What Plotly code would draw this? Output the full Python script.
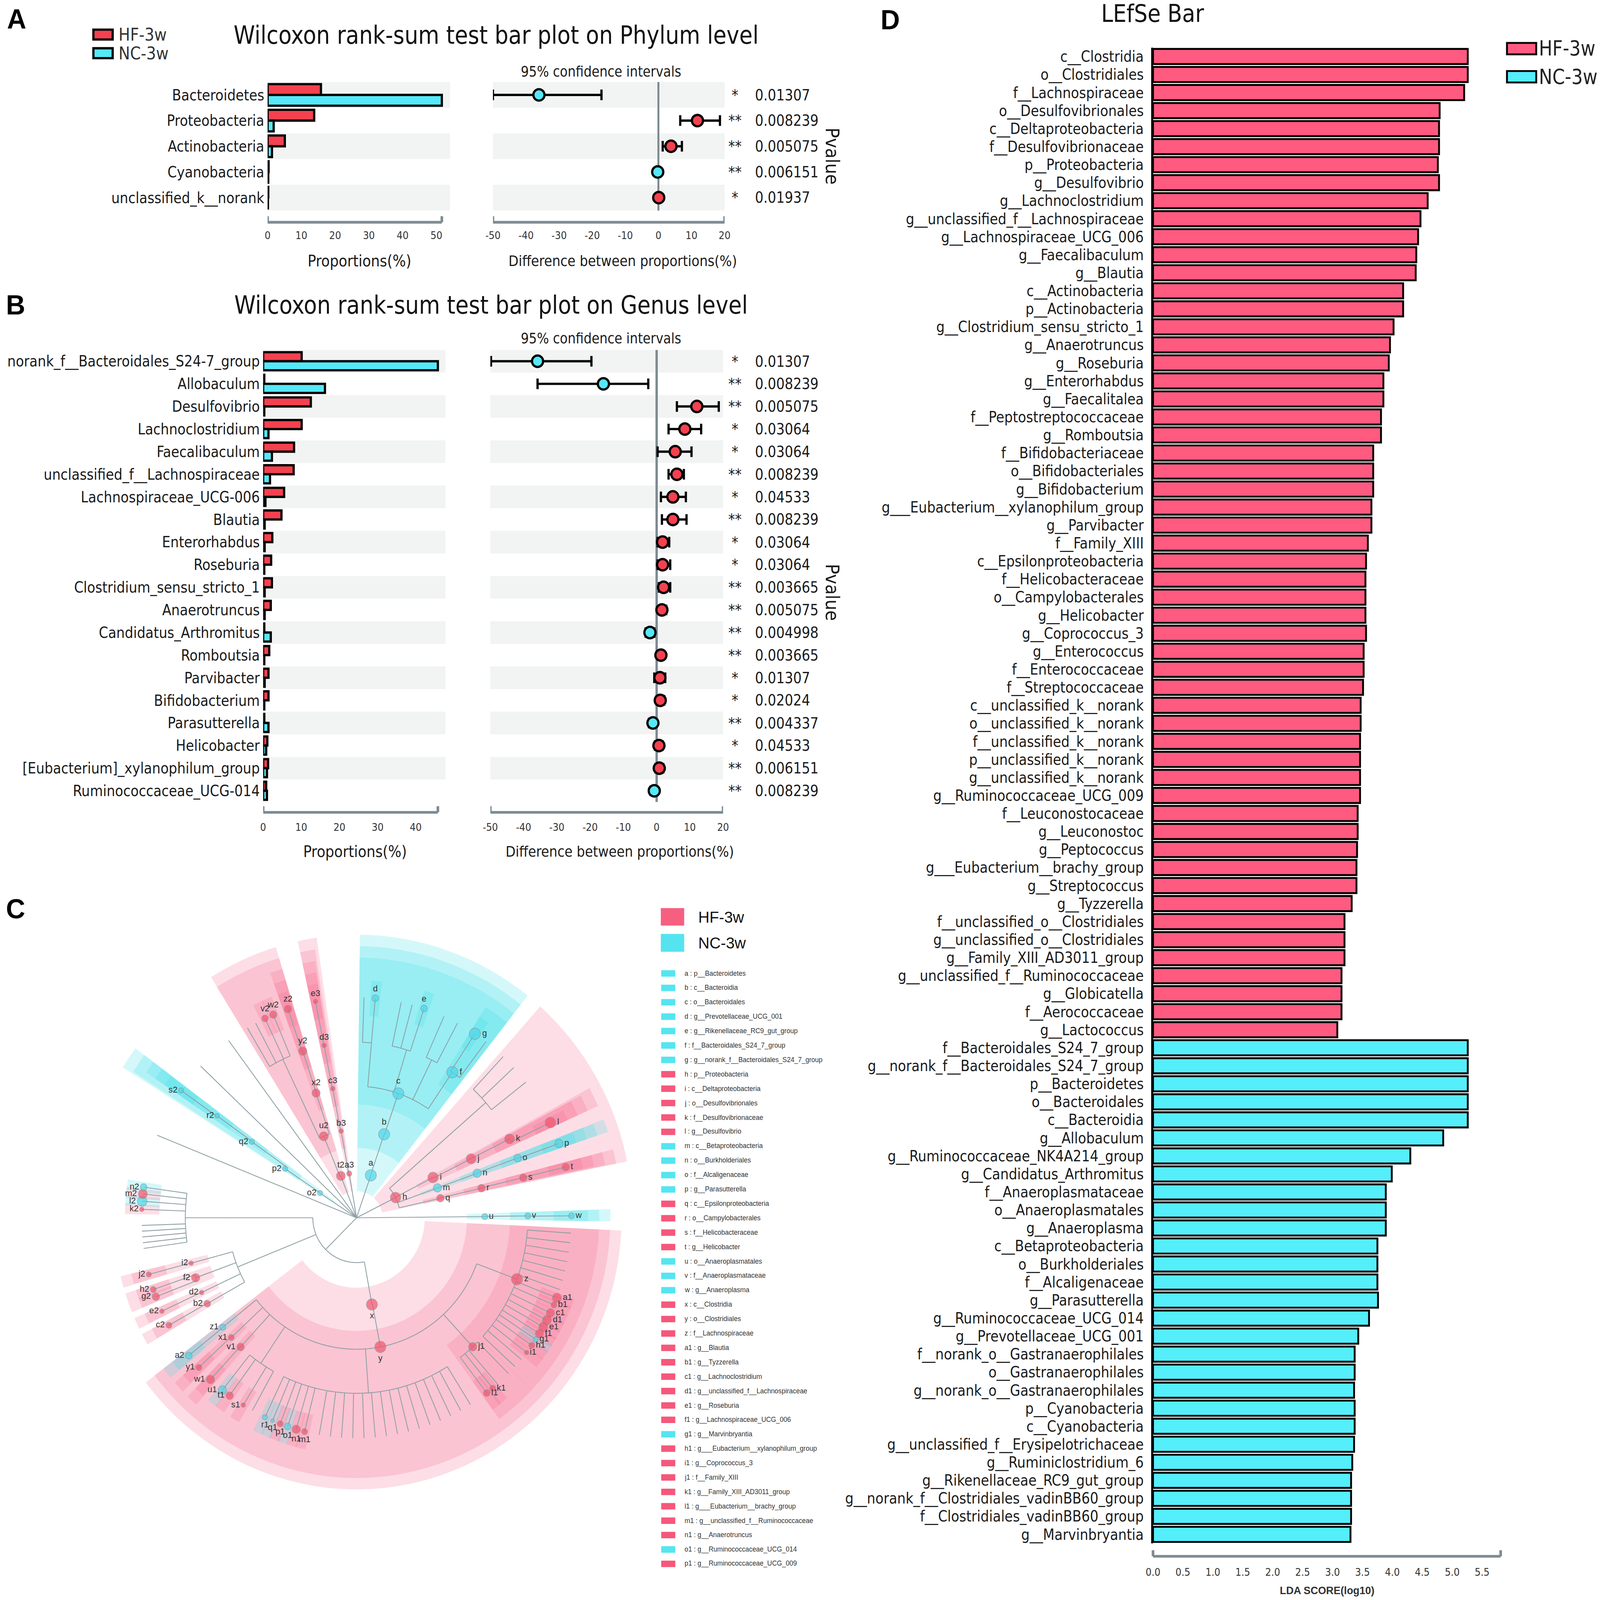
import plotly.graph_objects as go
import numpy as np
from collections import defaultdict

W, H = 4317, 4211
def fx(p): return p / W
def fy(p): return 1 - p / H

NARROW = "Liberation Sans Narrow, Arial Narrow, DejaVu Sans Condensed, sans-serif"
SANS = "Liberation Sans, Arial, Helvetica, sans-serif"

HF_RED = "#f4414f"; NC_CYAN = "#55e8f8"
LEFSE_RED = "#ff5a80"; LEFSE_CYAN = "#55eefb"
AXIS_GRAY = "#7d8b93"; BAND = "#f2f3f3"

# ---------------- Panel A data (phylum) ----------------
phylum_names = ["Bacteroidetes", "Proteobacteria", "Actinobacteria", "Cyanobacteria", "unclassified_k__norank"]
phylum_hf = [15.8, 13.8, 5.1, 0.3, 0.2]
phylum_nc = [51.6, 1.8, 1.3, 0.2, 0.1]
phylum_diff = [-36.1, 11.8, 3.8, -0.2, 0.1]
phylum_ci_low = [-50.0, 6.6, 1.3, -0.6, -0.3]
phylum_ci_high = [-17.2, 18.6, 7.1, 0.2, 0.5]
phylum_stars = ["*", "**", "**", "**", "*"]
phylum_p = ["0.01307", "0.008239", "0.005075", "0.006151", "0.01937"]
phylum_ticks = [0, 10, 20, 30, 40, 50]

# ---------------- Panel B data (genus) ----------------
genus_names = ["norank_f__Bacteroidales_S24-7_group", "Allobaculum", "Desulfovibrio", "Lachnoclostridium",
               "Faecalibaculum", "unclassified_f__Lachnospiraceae", "Lachnospiraceae_UCG-006", "Blautia",
               "Enterorhabdus", "Roseburia", "Clostridium_sensu_stricto_1", "Anaerotruncus",
               "Candidatus_Arthromitus", "Romboutsia", "Parvibacter", "Bifidobacterium", "Parasutterella",
               "Helicobacter", "[Eubacterium]_xylanophilum_group", "Ruminococcaceae_UCG-014"]
genus_hf = [10.1, 0.3, 12.5, 10.1, 8.1, 8.0, 5.5, 4.8, 2.4, 2.1, 2.3, 2.0, 0.3, 1.6, 1.4, 1.4, 0.3, 1.1, 1.3, 0.8]
genus_nc = [45.8, 16.2, 0.3, 1.4, 2.3, 1.8, 0.6, 0.4, 0.4, 0.3, 0.4, 0.4, 2.0, 0.3, 0.4, 0.3, 1.4, 0.8, 1.0, 1.0]
genus_diff = [-35.8, -16.0, 12.1, 8.5, 5.6, 6.1, 4.9, 4.9, 1.8, 1.8, 2.1, 1.6, -2.0, 1.3, 1.0, 1.1, -1.1, 0.7, 0.8, -0.7]
genus_ci_low = [-49.8, -35.8, 6.1, 3.6, 0.3, 3.6, 1.3, 1.6, 0.3, 0.3, 0.7, 0.7, -3.3, 0.3, -0.7, 0.0, -2.3, -0.5, -0.3, -1.8]
genus_ci_high = [-19.6, -2.5, 18.7, 13.4, 10.5, 8.2, 8.8, 9.0, 3.8, 4.1, 4.1, 2.9, -0.7, 2.3, 2.6, 2.3, -0.2, 1.8, 2.0, 0.3]
genus_stars = ["*", "**", "**", "*", "*", "**", "*", "**", "*", "*", "**", "**", "**", "**", "*", "*", "**", "*", "**", "**"]
genus_p = ["0.01307", "0.008239", "0.005075", "0.03064", "0.03064", "0.008239", "0.04533", "0.008239", "0.03064",
           "0.03064", "0.003665", "0.005075", "0.004998", "0.003665", "0.01307", "0.02024", "0.004337", "0.04533",
           "0.006151", "0.008239"]
genus_ticks = [0, 10, 20, 30, 40]
diff_ticks = [-50, -40, -30, -20, -10, 0, 10, 20]

# ---------------- Panel D data (LEfSe) ----------------
lefse_hf_names = ["c__Clostridia", "o__Clostridiales", "f__Lachnospiraceae", "o__Desulfovibrionales",
    "c__Deltaproteobacteria", "f__Desulfovibrionaceae", "p__Proteobacteria", "g__Desulfovibrio",
    "g__Lachnoclostridium", "g__unclassified_f__Lachnospiraceae", "g__Lachnospiraceae_UCG_006",
    "g__Faecalibaculum", "g__Blautia", "c__Actinobacteria", "p__Actinobacteria", "g__Clostridium_sensu_stricto_1",
    "g__Anaerotruncus", "g__Roseburia", "g__Enterorhabdus", "g__Faecalitalea", "f__Peptostreptococcaceae",
    "g__Romboutsia", "f__Bifidobacteriaceae", "o__Bifidobacteriales", "g__Bifidobacterium",
    "g___Eubacterium__xylanophilum_group", "g__Parvibacter", "f__Family_XIII", "c__Epsilonproteobacteria",
    "f__Helicobacteraceae", "o__Campylobacterales", "g__Helicobacter", "g__Coprococcus_3", "g__Enterococcus",
    "f__Enterococcaceae", "f__Streptococcaceae", "c__unclassified_k__norank", "o__unclassified_k__norank",
    "f__unclassified_k__norank", "p__unclassified_k__norank", "g__unclassified_k__norank",
    "g__Ruminococcaceae_UCG_009", "f__Leuconostocaceae", "g__Leuconostoc", "g__Peptococcus",
    "g___Eubacterium__brachy_group", "g__Streptococcus", "g__Tyzzerella", "f__unclassified_o__Clostridiales",
    "g__unclassified_o__Clostridiales", "g__Family_XIII_AD3011_group", "g__unclassified_f__Ruminococcaceae",
    "g__Globicatella", "f__Aerococcaceae", "g__Lactococcus"]
lefse_hf_lda = [5.26, 5.26, 5.20, 4.79, 4.78, 4.78, 4.76, 4.78, 4.59, 4.47, 4.43, 4.40, 4.39, 4.18, 4.18, 4.02,
    3.96, 3.94, 3.85, 3.85, 3.81, 3.81, 3.68, 3.68, 3.68, 3.65, 3.65, 3.59, 3.56, 3.55, 3.55, 3.55, 3.56, 3.52,
    3.52, 3.51, 3.47, 3.47, 3.46, 3.46, 3.46, 3.46, 3.42, 3.42, 3.41, 3.40, 3.40, 3.32, 3.20, 3.20, 3.20, 3.15,
    3.15, 3.15, 3.08]
lefse_nc_names = ["f__Bacteroidales_S24_7_group", "g__norank_f__Bacteroidales_S24_7_group", "p__Bacteroidetes",
    "o__Bacteroidales", "c__Bacteroidia", "g__Allobaculum", "g__Ruminococcaceae_NK4A214_group",
    "g__Candidatus_Arthromitus", "f__Anaeroplasmataceae", "o__Anaeroplasmatales", "g__Anaeroplasma",
    "c__Betaproteobacteria", "o__Burkholderiales", "f__Alcaligenaceae", "g__Parasutterella",
    "g__Ruminococcaceae_UCG_014", "g__Prevotellaceae_UCG_001", "f__norank_o__Gastranaerophilales",
    "o__Gastranaerophilales", "g__norank_o__Gastranaerophilales", "p__Cyanobacteria", "c__Cyanobacteria",
    "g__unclassified_f__Erysipelotrichaceae", "g__Ruminiclostridium_6", "g__Rikenellaceae_RC9_gut_group",
    "g__norank_f__Clostridiales_vadinBB60_group", "f__Clostridiales_vadinBB60_group", "g__Marvinbryantia"]
lefse_nc_lda = [5.26, 5.26, 5.26, 5.26, 5.26, 4.85, 4.30, 3.99, 3.89, 3.89, 3.89, 3.75, 3.75, 3.75, 3.76, 3.61,
    3.43, 3.37, 3.37, 3.36, 3.37, 3.37, 3.36, 3.33, 3.31, 3.31, 3.31, 3.30]
lda_ticks = [0.0, 0.5, 1.0, 1.5, 2.0, 2.5, 3.0, 3.5, 4.0, 4.5, 5.0, 5.5]

# ---------------- Panel C data (cladogram) ----------------
# (id, parent, level, angle_deg, group, marker size)
clade_nodes = [
    ("a", "root", 1, 71.0, "NC", 30), ("b", "a", 2, 71.3, "NC", 30), ("c", "b", 3, 71.0, "NC", 30),
    ("Fb1", "c", 4, 85.0, None, 0), ("d", "Fb1", 5, 85.0, "NC", 18),
    ("Fb2", "c", 4, 73.0, None, 0), ("e", "Fb2", 5, 71.7, "NC", 18),
    ("Fb3", "c", 4, 64.0, None, 0),
    ("f", "c", 4, 56.0, "NC", 30), ("g", "f", 5, 56.6, "NC", 30),
    ("h", "root", 1, 26.8, "HF", 28), ("i", "h", 2, 27.2, "HF", 28), ("j", "i", 3, 26.7, "HF", 26),
    ("k", "j", 4, 26.7, "HF", 26), ("l", "k", 5, 25.6, "HF", 28),
    ("m", "h", 2, 19.8, "NC", 22), ("n", "m", 3, 19.8, "NC", 22), ("o", "n", 4, 19.9, "NC", 20),
    ("p", "o", 5, 19.7, "NC", 22),
    ("q", "h", 2, 12.8, "HF", 20), ("r", "q", 3, 13.0, "HF", 20), ("s", "r", 4, 13.2, "HF", 20),
    ("t", "s", 5, 13.3, "HF", 20),
    ("Cp1", "h", 2, 41.0, None, 0), ("Op1", "Cp1", 3, 41.0, None, 0), ("Fp1", "Op1", 4, 41.0, None, 0),
    ("Pt", "root", 1, 0.5, None, 0), ("Ct", "Pt", 2, 0.5, None, 0),
    ("u", "Ct", 3, 0.5, "NC", 16), ("v", "u", 4, 0.6, "NC", 16), ("w", "v", 5, 0.5, "NC", 16),
    ("Pf", "root", 1, -135.0, None, 0),
    ("x", "Pf", 2, -79.7, "HF", 30), ("y", "x", 3, -79.3, "HF", 30),
    ("z", "y", 4, -20.5, "HF", 30),
    ("a1", "z", 5, -21.3, "HF", 24), ("b1", "z", 5, -23.3, "HF", 16), ("c1", "z", 5, -25.6, "HF", 22),
    ("d1", "z", 5, -27.7, "HF", 24), ("e1", "z", 5, -29.7, "HF", 24), ("f1", "z", 5, -31.7, "HF", 22),
    ("g1", "z", 5, -33.5, "NC", 14), ("h1", "z", 5, -35.4, "HF", 16), ("i1", "z", 5, -37.7, "HF", 12),
    ("j1", "y", 4, -47.3, "HF", 22), ("k1", "j1", 5, -50.7, "HF", 16), ("l1", "j1", 5, -52.7, "HF", 18),
    ("Fr", "y", 4, -86.0, None, 0),
    ("m1", "Fr", 5, -104.0, "HF", 16), ("n1", "Fr", 5, -106.3, "HF", 22), ("o1", "Fr", 5, -108.7, "NC", 18),
    ("p1", "Fr", 5, -110.8, "HF", 16), ("q1", "Fr", 5, -113.0, "NC", 10), ("r1", "Fr", 5, -115.2, "NC", 14),
    ("Fx", "y", 4, -124.0, None, 0),
    ("s1", "Fx", 5, -121.8, "HF", 12), ("t1", "Fx", 5, -126.2, "HF", 20), ("u1", "Fx", 5, -128.6, "NC", 22),
    ("v1", "y", 4, -132.6, "HF", 20), ("w1", "v1", 5, -132.8, "HF", 22),
    ("x1", "y", 4, -137.0, "HF", 16), ("y1", "x1", 5, -137.2, "HF", 16),
    ("z1", "y", 4, -141.4, "NC", 16), ("a2", "z1", 5, -141.3, "NC", 18),
    ("Cb", "Pf", 2, -158.0, None, 0), ("Ob", "Cb", 3, -158.0, None, 0),
    ("b2", "Ob", 4, -150.7, "HF", 18), ("c2", "b2", 5, -150.8, "HF", 16),
    ("d2", "Ob", 4, -154.8, "HF", 12), ("e2", "d2", 5, -154.9, "HF", 12),
    ("f2", "Ob", 4, -160.0, "HF", 22), ("g2", "f2", 5, -159.0, "HF", 20), ("h2", "f2", 5, -161.0, "HF", 16),
    ("i2", "Ob", 4, -165.0, "HF", 12), ("j2", "i2", 5, -165.1, "HF", 14),
    ("Ce", "Pf", 2, -180.0, None, 0), ("Oe", "Ce", 3, -180.0, None, 0), ("Fe", "Oe", 4, -180.0, None, 0),
    ("k2", "Fe", 5, -182.2, "HF", 12), ("l2", "Fe", 5, -184.3, "NC", 26), ("m2", "Fe", 5, -186.2, "HF", 24),
    ("n2", "Fe", 5, -188.0, "NC", 18),
    ("t2", "root", 1, 111.0, "HF", 24), ("u2", "t2", 2, 112.4, "HF", 24), ("x2", "u2", 3, 108.4, "HF", 22),
    ("y2", "x2", 4, 108.3, "HF", 22), ("z2", "y2", 5, 108.6, "HF", 20),
    ("Oa2", "u2", 3, 115.5, None, 0), ("Fa2", "Oa2", 4, 115.5, None, 0),
    ("v2", "Fa2", 5, 115.2, "HF", 18), ("w2", "Fa2", 5, 112.8, "HF", 20),
    ("a3", "root", 1, 99.6, "HF", 14), ("b3", "a3", 2, 100.3, "HF", 12), ("c3", "b3", 3, 100.7, "HF", 12),
    ("d3", "c3", 4, 100.9, "HF", 12), ("e3", "d3", 5, 101.0, "HF", 12),
    ("o2", "root", 1, 146.6, "NC", 14), ("p2", "o2", 2, 146.2, "NC", 14), ("q2", "p2", 3, 144.7, "NC", 14),
    ("r2", "q2", 4, 144.5, "NC", 12), ("s2", "r2", 5, 144.7, "NC", 14),
]
# non-significant leaves: (parent, level, angle)
clade_tips = [
    ("Fb1", 5, 88.0), ("Fb2", 5, 75.0), ("Fb2", 5, 78.0), ("Fb3", 5, 62.0), ("Fb3", 5, 66.0), ("f", 5, 53.0),
    ("Fp1", 5, 38.0), ("Fp1", 5, 43.0), ("Fp1", 5, 47.0),
    ("z", 5, -4.0), ("z", 5, -6.5), ("z", 5, -9.0), ("z", 5, -11.5), ("z", 5, -14.0), ("z", 5, -16.5),
    ("z", 5, -19.0), ("z", 5, -40.0), ("z", 5, -42.5),
    ("j1", 5, -45.0), ("j1", 5, -49.0),
    ("Fr", 5, -58.0), ("Fr", 5, -61.0), ("Fr", 5, -64.0), ("Fr", 5, -67.0), ("Fr", 5, -70.0), ("Fr", 5, -73.0),
    ("Fr", 5, -76.0), ("Fr", 5, -79.0), ("Fr", 5, -82.0), ("Fr", 5, -85.0), ("Fr", 5, -88.0), ("Fr", 5, -91.0),
    ("Fr", 5, -94.0), ("Fr", 5, -97.0), ("Fr", 5, -100.0),
    ("Fx", 5, -119.0),
    ("Fe", 5, -178.0), ("Fe", 5, -176.5), ("Fe", 5, -175.0), ("Fe", 5, -173.5), ("Fe", 5, -172.0),
    ("Fa2", 5, 118.0), ("Fa2", 5, 120.5),
    ("root", 5, 158.0), ("root", 5, 136.5), ("root", 5, 126.5),
]
clade_level_r = [0, 118, 232, 346, 462, 580]

legend_letters = ["a", "b", "c", "d", "e", "f", "g", "h", "i", "j", "k", "l", "m", "n", "o", "p", "q", "r", "s",
                  "t", "u", "v", "w", "x", "y", "z", "a1", "b1", "c1", "d1", "e1", "f1", "g1", "h1", "i1", "j1",
                  "k1", "l1", "m1", "n1", "o1", "p1"]
legend_taxa = ["p__Bacteroidetes", "c__Bacteroidia", "o__Bacteroidales", "g__Prevotellaceae_UCG_001",
    "g__Rikenellaceae_RC9_gut_group", "f__Bacteroidales_S24_7_group", "g__norank_f__Bacteroidales_S24_7_group",
    "p__Proteobacteria", "c__Deltaproteobacteria", "o__Desulfovibrionales", "f__Desulfovibrionaceae",
    "g__Desulfovibrio", "c__Betaproteobacteria", "o__Burkholderiales", "f__Alcaligenaceae", "g__Parasutterella",
    "c__Epsilonproteobacteria", "o__Campylobacterales", "f__Helicobacteraceae", "g__Helicobacter",
    "o__Anaeroplasmatales", "f__Anaeroplasmataceae", "g__Anaeroplasma", "c__Clostridia", "o__Clostridiales",
    "f__Lachnospiraceae", "g__Blautia", "g__Tyzzerella", "g__Lachnoclostridium",
    "g__unclassified_f__Lachnospiraceae", "g__Roseburia", "g__Lachnospiraceae_UCG_006", "g__Marvinbryantia",
    "g___Eubacterium__xylanophilum_group", "g__Coprococcus_3", "f__Family_XIII", "g__Family_XIII_AD3011_group",
    "g___Eubacterium__brachy_group", "g__unclassified_f__Ruminococcaceae", "g__Anaerotruncus",
    "g__Ruminococcaceae_UCG_014", "g__Ruminococcaceae_UCG_009"]
legend_groups = ["NC"] * 7 + ["HF"] * 5 + ["NC"] * 4 + ["HF"] * 4 + ["NC"] * 3 + ["HF"] * 3 + ["HF"] * 6 + \
                ["NC"] + ["HF"] * 7 + ["NC"] + ["HF"]

fig = go.Figure()
shapes, ann = [], []
layout_axes = {}

def akey(ref):
    return ref[0] + "axis" + ref[1:]

def txt(x, y, s, size, family=NARROW, xanchor="center", yanchor="middle", color="#1a1a1a", xref="paper",
        yref="paper", angle=0, bold=False):
    ann.append(dict(x=x, y=y, xref=xref, yref=yref, text=("<b>%s</b>" % s) if bold else s, showarrow=False,
                    xanchor=xanchor, yanchor=yanchor, textangle=angle,
                    font=dict(family=family, size=size, color=color)))

def stamp(names, hf, nc, diff, lo, hi, stars, pvals, lticks, refs, g):
    xl, yl, xr, yr = refs
    n = len(names)
    ys = list(range(n))
    bw = g["bw"]
    fig.add_trace(go.Bar(x=hf, y=ys, orientation="h", width=bw, offset=-bw, xaxis=xl, yaxis=yl,
                         marker=dict(color=HF_RED, line=dict(color="black", width=6)), showlegend=False))
    fig.add_trace(go.Bar(x=nc, y=ys, orientation="h", width=bw, offset=0, xaxis=xl, yaxis=yl,
                         marker=dict(color=NC_CYAN, line=dict(color="black", width=6)), showlegend=False))
    fig.add_trace(go.Scatter(x=diff, y=ys, mode="markers", xaxis=xr, yaxis=yr, showlegend=False,
                             marker=dict(size=g["ms"], color=[HF_RED if d > 0 else NC_CYAN for d in diff],
                                         line=dict(color="black", width=6)),
                             error_x=dict(type="data", symmetric=False,
                                          array=[h_ - d for h_, d in zip(hi, diff)],
                                          arrayminus=[d - l_ for l_, d in zip(lo, diff)],
                                          color="black", thickness=6, width=14)))
    for i in range(0, n, 2):
        for xx, yy in ((xl, yl), (xr, yr)):
            shapes.append(dict(type="rect", xref=xx + " domain", x0=0, x1=1, yref=yy, y0=i - 0.5, y1=i + 0.5,
                               fillcolor=BAND, line=dict(width=0), layer="below"))
    yb = fy(g["ybot"]); yt = fy(g["ytop"])
    common = dict(showgrid=False, showline=False, ticks="", fixedrange=True, automargin=False)
    layout_axes[akey(xl)] = dict(domain=[fx(g["lx0"]), fx(g["lx1"])], range=[0, g["lmax"]], anchor="free",
                                 position=fy(g["axy"]), tickvals=lticks, ticktext=[str(v) for v in lticks],
                                 tickfont=dict(family=NARROW, size=28, color="#333"),
                                 ticklabelstandoff=g["ts"], zeroline=False, **common)
    layout_axes[akey(yl)] = dict(domain=[yb, yt], range=[n - 0.5, -0.5], anchor=xl, tickvals=ys,
                                 ticktext=names, tickfont=dict(family=NARROW, size=40, color="#1a1a1a"),
                                 ticklabelstandoff=8, zeroline=False, **common)
    layout_axes[akey(xr)] = dict(domain=[fx(g["rx0"]), fx(g["rx1"])], range=[-50, 20], anchor="free",
                                 position=fy(g["axy"]), tickvals=diff_ticks, ticktext=[str(v) for v in diff_ticks],
                                 tickfont=dict(family=NARROW, size=28, color="#333"),
                                 ticklabelstandoff=g["ts"], zeroline=True, zerolinecolor=AXIS_GRAY,
                                 zerolinewidth=6, **common)
    layout_axes[akey(yr)] = dict(domain=[yb, yt], range=[n - 0.5, -0.5], anchor=xr, showticklabels=False,
                                 zeroline=False, **common)
    ay = fy(g["axy"]); cap = fy(g["axy"] - 16)
    lend = max(nc + hf)
    for xx, a0, a1 in ((xl, 0, lend), (xr, -50, 20)):
        shapes.append(dict(type="line", xref=xx, yref="paper", x0=a0, x1=a1, y0=ay, y1=ay,
                           line=dict(color=AXIS_GRAY, width=7)))
        for e in (a0, a1):
            shapes.append(dict(type="line", xref=xx, yref="paper", x0=e, x1=e, y0=ay, y1=cap,
                               line=dict(color=AXIS_GRAY, width=7)))
    for i in ys:
        txt(fx(g["starx"]), i, stars[i], 40, yref=yl)
        txt(fx(g["px"]), i, pvals[i], 40, xanchor="left", yref=yl)

# ---------- Panel A
stamp(phylum_names, phylum_hf, phylum_nc, phylum_diff, phylum_ci_low, phylum_ci_high, phylum_stars, phylum_p,
      phylum_ticks, ("x", "y", "x2", "y2"),
      dict(lx0=722, lx1=1214, lmax=54, rx0=1330, rx1=1955, ytop=216, ybot=554, axy=585, ts=15,
           starx=1983, px=2035, ms=30, bw=0.42))
txt(fx(1338), fy(92), "Wilcoxon rank-sum test bar plot on Phylum level", 65, color="#111")
txt(fx(1621), fy(188), "95% confidence intervals", 38)
txt(fx(970), fy(686), "Proportions(%)", 42)
txt(fx(1680), fy(686), "Difference between proportions(%)", 39)
txt(fx(2245), fy(411), "Pvalue", 50, angle=90)
for (lab, col, yc) in (("HF-3w", HF_RED, 91), ("NC-3w", NC_CYAN, 140)):
    shapes.append(dict(type="rect", xref="paper", yref="paper", x0=fx(252), x1=fx(304), y0=fy(yc + 13),
                       y1=fy(yc - 13), fillcolor=col, line=dict(color="black", width=6)))
    txt(fx(318), fy(yc), lab, 46, xanchor="left", color="#333")

# ---------- Panel B
stamp(genus_names, genus_hf, genus_nc, genus_diff, genus_ci_low, genus_ci_high, genus_stars, genus_p,
      genus_ticks, ("x3", "y3", "x4", "y4"),
      dict(lx0=710, lx1=1202, lmax=47.8, rx0=1323, rx1=1951, ytop=921, ybot=2111, axy=2138, ts=20,
           starx=1983, px=2035, ms=30, bw=0.40))
txt(fx(1325), fy(803), "Wilcoxon rank-sum test bar plot on Genus level", 65, color="#111")
txt(fx(1621), fy(891), "95% confidence intervals", 38)
txt(fx(958), fy(2241), "Proportions(%)", 42)
txt(fx(1672), fy(2241), "Difference between proportions(%)", 39)
txt(fx(2245), fy(1559), "Pvalue", 50, angle=90)

# ---------- Panel D
lefse_names = lefse_hf_names + lefse_nc_names
lefse_lda = lefse_hf_lda + lefse_nc_lda
lefse_groups = ["HF"] * len(lefse_hf_names) + ["NC"] * len(lefse_nc_names)
nD = len(lefse_names)
fig.add_trace(go.Bar(x=lefse_lda, y=list(range(nD)), orientation="h", width=0.84, xaxis="x5", yaxis="y5",
                     marker=dict(color=[LEFSE_RED if gname == "HF" else LEFSE_CYAN for gname in lefse_groups],
                                 line=dict(color="black", width=5)), showlegend=False))
layout_axes["xaxis5"] = dict(domain=[fx(3111), fx(4049)], range=[0, 5.81], anchor="free", position=fy(4096),
                             tickvals=lda_ticks, ticktext=["%.1f" % v for v in lda_ticks],
                             tickfont=dict(family=NARROW, size=28, color="#333"), ticklabelstandoff=22,
                             showgrid=False, zeroline=False, showline=False, ticks="", fixedrange=True,
                             automargin=False)
layout_axes["yaxis5"] = dict(domain=[fy(4062), fy(125)], range=[nD - 0.5, -0.5], anchor="x5",
                             tickvals=list(range(nD)), ticktext=lefse_names,
                             tickfont=dict(family=NARROW, size=40, color="#1a1a1a"), ticklabelstandoff=12,
                             showgrid=False, zeroline=False, showline=True, linecolor="black", linewidth=5,
                             ticks="", fixedrange=True, automargin=False)
shapes.append(dict(type="line", xref="x5 domain", yref="paper", x0=0, x1=1, y0=fy(4096), y1=fy(4096),
                   line=dict(color=AXIS_GRAY, width=7)))
for e in (0, 1):
    shapes.append(dict(type="line", xref="x5 domain", yref="paper", x0=e, x1=e, y0=fy(4096), y1=fy(4080),
                       line=dict(color=AXIS_GRAY, width=7)))
txt(fx(3581), fy(4186), "LDA SCORE(log10)", 28, family=SANS, bold=True, color="#333")
txt(fx(3110), fy(36), "LEfSe Bar", 64, color="#111")
for (lab, col, yc) in (("HF-3w", LEFSE_RED, 128), ("NC-3w", LEFSE_CYAN, 202)):
    shapes.append(dict(type="rect", xref="paper", yref="paper", x0=fx(4066), x1=fx(4145), y0=fy(yc + 15),
                       y1=fy(yc - 15), fillcolor=col, line=dict(color="black", width=5)))
    txt(fx(4150), fy(yc), lab, 54, xanchor="left", color="#222")

# ---------- Panel C: cladogram
node = {"root": ("root", None, 0, 0.0, None, 0)}
for nd in clade_nodes:
    node[nd[0]] = nd
children = defaultdict(list)
for nd in clade_nodes:
    children[nd[1]].append((nd[2], nd[3]))
for (par, lev, th) in clade_tips:
    children[par].append((lev, th))

def descendant_angles(nid):
    out = [node[nid][3]]
    for nd in clade_nodes:
        if nd[1] == nid:
            out += descendant_angles(nd[0])
    for (par, lev, th) in clade_tips:
        if par == nid:
            out.append(th)
    return out

wedge_r, wedge_base, wedge_t, wedge_w, wedge_c = [], [], [], [], []
sig = sorted([nd for nd in clade_nodes if nd[4] is not None], key=lambda t: t[2])
for nd in sig:
    angs = descendant_angles(nd[0])
    lo, hi = min(angs), max(angs)
    base = clade_level_r[nd[2]] - 48
    outer = 625 + (5 - nd[2]) * 30
    wedge_base.append(base)
    wedge_r.append(outer - base)
    wedge_t.append((lo + hi) / 2)
    wedge_w.append(hi - lo + 2.6)
    wedge_c.append("rgba(246,105,140,0.22)" if nd[4] == "HF" else "rgba(60,222,232,0.22)")
fig.add_trace(go.Barpolar(r=wedge_r, base=wedge_base, theta=wedge_t, width=wedge_w, subplot="polar",
                          marker=dict(color=wedge_c, line=dict(width=0)), showlegend=False, hoverinfo="skip"))

br_r, br_t = [], []
for pid, kids in children.items():
    p = node[pid]
    rp = clade_level_r[p[2]]
    if pid != "root":
        angs = [k[1] for k in kids] + [p[3]]
        a0, a1 = min(angs), max(angs)
        if a1 - a0 > 0.01:
            ts_ = np.linspace(a0, a1, max(3, int((a1 - a0) * 2)))
            br_t += list(ts_) + [None]
            br_r += [rp] * len(ts_) + [None]
    for (lev, th) in kids:
        br_t += [th, th, None]
        br_r += [rp, clade_level_r[lev], None]
fig.add_trace(go.Scatterpolar(r=br_r, theta=br_t, mode="lines", subplot="polar", showlegend=False,
                              line=dict(color="#8fa0a5", width=2.2), hoverinfo="skip", connectgaps=False))

sig_nodes = [nd for nd in clade_nodes if nd[4] is not None]
def tpos(th):
    c, s = np.cos(np.radians(th)), np.sin(np.radians(th))
    if s > 0.85:
        return "top center"
    if s < -0.85:
        return "bottom center"
    return "middle right" if c >= 0 else "middle left"
fig.add_trace(go.Scatterpolar(r=[clade_level_r[nd[2]] for nd in sig_nodes], theta=[nd[3] for nd in sig_nodes],
                              mode="markers+text", subplot="polar", showlegend=False,
                              text=[nd[0] for nd in sig_nodes], textposition=[tpos(nd[3]) for nd in sig_nodes],
                              textfont=dict(family=SANS, size=23, color="#333"),
                              marker=dict(size=[nd[5] for nd in sig_nodes],
                                          color=["#f0566e" if nd[4] == "HF" else "#4fd6ea" for nd in sig_nodes],
                                          line=dict(color="#8a8a8a", width=1.5))))

for (lab, col, y0, y1) in (("HF-3w", "#f65f80", 2390, 2436), ("NC-3w", "#55e3f0", 2458, 2505)):
    shapes.append(dict(type="rect", xref="paper", yref="paper", x0=fx(1783), x1=fx(1846), y0=fy(y1), y1=fy(y0),
                       fillcolor=col, line=dict(width=0)))
    txt(fx(1882), fy((y0 + y1) / 2), lab, 42, family=SANS, xanchor="left", color="#111")
for i, (let, tax, grp) in enumerate(zip(legend_letters, legend_taxa, legend_groups)):
    yc = 2562 + i * 37.9
    shapes.append(dict(type="rect", xref="paper", yref="paper", x0=fx(1784), x1=fx(1822), y0=fy(yc + 8.5),
                       y1=fy(yc - 8.5), fillcolor="#f5587a" if grp == "HF" else "#55e5f0", line=dict(width=0)))
    txt(fx(1845), fy(yc), "%s : %s" % (let, tax), 18, family=SANS, xanchor="left", color="#333")

for (L, x, y) in (("A", 45, 50), ("B", 42, 803), ("C", 42, 2392), ("D", 2402, 52)):
    txt(fx(x), fy(y), L, 72, family=SANS, bold=True, color="#000")

fig.update_layout(
    width=W, height=H, margin=dict(l=0, r=0, t=0, b=0, autoexpand=False), paper_bgcolor="white",
    plot_bgcolor="rgba(0,0,0,0)",
    showlegend=False, barmode="overlay", shapes=shapes, annotations=ann,
    polar=dict(domain=dict(x=[fx(162), fx(1762)], y=[fy(4005), fy(2405)]), bgcolor="rgba(0,0,0,0)",
               barmode="overlay", radialaxis=dict(visible=False, range=[0, 800]),
               angularaxis=dict(visible=False)),
    **layout_axes,
)

FIT_JS = (
    "var gd=document.getElementById('{plot_id}');"
    "document.documentElement.style.margin='0';document.body.style.margin='0';"
    "document.body.style.padding='0';document.documentElement.style.overflow='hidden';"
    "document.body.style.overflow='hidden';"
    "var sx=window.innerWidth/%d, sy=window.innerHeight/%d;"
    "gd.style.transformOrigin='0 0';gd.style.transform='scale('+sx+','+sy+')';" % (W, H)
)
fig.write_html("out.html", post_script=FIT_JS, config={"displayModeBar": False})
